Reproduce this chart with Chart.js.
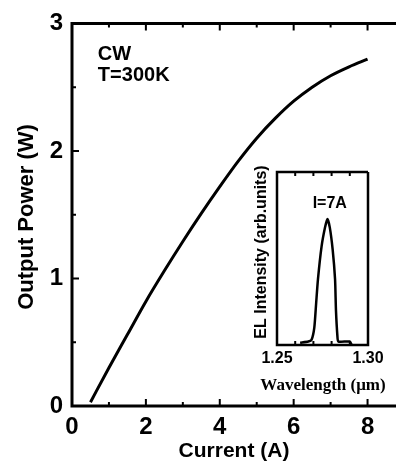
<!DOCTYPE html>
<html>
<head>
<meta charset="utf-8">
<script src="https://cdn.jsdelivr.net/npm/chart.js@4.4.1/dist/chart.umd.min.js"></script>
<style>
  html, body { margin: 0; padding: 0; background: #fff; }
  #wrap { position: relative; width: 396px; height: 472px; overflow: hidden; }
  #mainChart { position: absolute; left: 0; top: 0; }
  #insetChart { position: absolute; left: 240px; top: 160px; }
</style>
</head>
<body>
<div id="wrap">
  <canvas id="mainChart" width="396" height="472"></canvas>
  <canvas id="insetChart" width="156" height="240"></canvas>
</div>
<script>
// main L-I curve
const current = [0.5, 1.0, 1.5, 2.0, 2.5, 3.0, 3.5, 4.0, 4.5, 5.0, 5.5, 6.0, 6.5, 7.0, 7.5, 8.0];
const power   = [0.03, 0.30, 0.56, 0.82, 1.06, 1.29, 1.51, 1.72, 1.92, 2.10, 2.255, 2.39, 2.50, 2.59, 2.66, 2.72];

// inset EL spectrum at I=7A
const wavelength = [1.2627, 1.2672, 1.2690, 1.2705, 1.2715, 1.2725, 1.2745, 1.2764, 1.2777, 1.2790, 1.2806, 1.2819, 1.2824, 1.2832, 1.2837, 1.2900, 1.2910];
const intensity  = [0.013, 0.02, 0.03, 0.10, 0.24, 0.38, 0.57, 0.68, 0.728, 0.68, 0.55, 0.38, 0.20, 0.05, 0.02, 0.02, 0.0];

// tick values
const mainXMajor = [0, 2, 4, 6, 8];
const mainXMinor = [1, 3, 5, 7];
const mainYMajor = [0, 1, 2, 3];
const mainYMinor = [0.5, 1.5, 2.5];
const insetXMinor = [1.26, 1.27, 1.28, 1.29];

const SANS = "'Liberation Sans', Arial, sans-serif";
const SERIF = "'Liberation Serif', 'Times New Roman', serif";

Chart.defaults.color = '#000';

// frame + inward ticks, drawn from the chart's own scales
const frameTicks = {
  id: 'frameTicks',
  afterDatasetsDraw(chart, args, o) {
    const ctx = chart.ctx;
    const a = chart.chartArea;
    const x = chart.scales.x, y = chart.scales.y;
    ctx.save();
    ctx.strokeStyle = '#000';
    ctx.lineWidth = o.lineWidth;
    ctx.beginPath();
    ctx.moveTo(a.left, a.top); ctx.lineTo(a.left, a.bottom);
    ctx.moveTo(a.left - o.lineWidth / 2, a.bottom); ctx.lineTo(a.right, a.bottom);
    ctx.moveTo(a.left - o.lineWidth / 2, a.top); ctx.lineTo(a.right, a.top);
    if (o.right) { ctx.moveTo(a.right, a.top); ctx.lineTo(a.right, a.bottom + o.lineWidth / 2); }
    ctx.stroke();

    ctx.lineWidth = o.tickWidth;
    ctx.beginPath();
    const xt = (vals, len) => vals.forEach(v => {
      const px = x.getPixelForValue(v);
      ctx.moveTo(px, a.bottom); ctx.lineTo(px, a.bottom - len);
      ctx.moveTo(px, a.top); ctx.lineTo(px, a.top + len);
    });
    const yt = (vals, len) => vals.forEach(v => {
      const py = y.getPixelForValue(v);
      ctx.moveTo(a.left, py); ctx.lineTo(a.left + len, py);
    });
    xt(o.xMajor || [], o.majorLen);
    xt(o.xMinor || [], o.minorLen);
    yt(o.yMajor || [], o.majorLen);
    yt(o.yMinor || [], o.minorLen);
    ctx.stroke();
    ctx.restore();
  }
};

// free text: data-placed notes and pixel-placed axis titles
const notes = {
  id: 'notes',
  afterDraw(chart, args, o) {
    const ctx = chart.ctx;
    ctx.save();
    ctx.fillStyle = '#000';
    (o.items || []).forEach(it => {
      ctx.font = it.font;
      ctx.textAlign = it.align || 'left';
      ctx.textBaseline = 'alphabetic';
      ctx.fillText(it.text, chart.scales.x.getPixelForValue(it.x), chart.scales.y.getPixelForValue(it.y));
    });
    (o.titles || []).forEach(t => {
      ctx.save();
      ctx.font = t.font;
      ctx.textAlign = 'center';
      ctx.textBaseline = 'middle';
      ctx.translate(t.px, t.py);
      if (t.vertical) ctx.rotate(-Math.PI / 2);
      ctx.fillText(t.text, 0, 0);
      ctx.restore();
    });
    ctx.restore();
  }
};

const mainChart = new Chart(document.getElementById('mainChart'), {
  type: 'line',
  data: {
    datasets: [{
      data: current.map((c, i) => ({ x: c, y: power[i] })),
      borderColor: '#000',
      borderWidth: 3,
      pointRadius: 0,
      cubicInterpolationMode: 'monotone',
      fill: false
    }]
  },
  options: {
    responsive: false,
    devicePixelRatio: 1,
    animation: false,
    layout: { padding: { top: 16, right: 0, left: 0, bottom: 0 } },
    plugins: {
      legend: { display: false },
      tooltip: { enabled: false },
      frameTicks: {
        lineWidth: 3, tickWidth: 2, majorLen: 7, minorLen: 4, right: false,
        xMajor: mainXMajor, xMinor: mainXMinor, yMajor: mainYMajor, yMinor: mainYMinor
      },
      notes: {
        items: [
          { text: 'CW', x: 0.70, y: 2.71, font: 'bold 20px ' + SANS },
          { text: 'T=300K', x: 0.70, y: 2.55, font: 'bold 20px ' + SANS }
        ],
        titles: [
          { text: 'Output Power (W)', px: 27, py: 217, vertical: true, font: 'bold 22px ' + SANS }
        ]
      }
    },
    scales: {
      x: {
        type: 'linear',
        min: 0, max: 8.77,
        grid: { display: false, drawTicks: false },
        border: { display: false },
        ticks: {
          stepSize: 2, includeBounds: false, padding: 7, maxRotation: 0,
          font: { family: SANS, size: 24, weight: 'bold' }
        },
        title: {
          display: true, text: 'Current (A)',
          font: { family: SANS, size: 21, weight: 'bold' },
          padding: { top: 0, bottom: 8 }
        },
        afterFit(s) { s.height = 66; }
      },
      y: {
        type: 'linear',
        min: 0, max: 3,
        grid: { display: false, drawTicks: false },
        border: { display: false },
        ticks: {
          stepSize: 1, padding: 9,
          font: { family: SANS, size: 24, weight: 'bold' }
        },
        afterFit(s) { s.width = 72; }
      }
    }
  },
  plugins: [frameTicks, notes]
});

const insetChart = new Chart(document.getElementById('insetChart'), {
  type: 'line',
  data: {
    datasets: [{
      data: wavelength.map((w, i) => ({ x: w, y: intensity[i] })),
      borderColor: '#000',
      borderWidth: 2.5,
      pointRadius: 0,
      tension: 0.2,
      fill: false
    }]
  },
  options: {
    responsive: false,
    devicePixelRatio: 1,
    animation: false,
    layout: { padding: { top: 12, right: 28, left: 0, bottom: 0 } },
    plugins: {
      legend: { display: false },
      tooltip: { enabled: false },
      frameTicks: {
        lineWidth: 2.5, tickWidth: 2, majorLen: 4, minorLen: 4, right: true,
        xMinor: insetXMinor
      },
      notes: {
        items: [
          { text: 'I=7A', x: 1.279, y: 0.79, font: 'bold 16px ' + SANS, align: 'center' }
        ],
        titles: [
          { text: 'Wavelength (\u03BCm)', px: 83, py: 226, font: 'bold 17px ' + SERIF },
          { text: 'EL Intensity (arb.units)', px: 22, py: 92, vertical: true, font: 'bold 16px ' + SANS }
        ]
      }
    },
    scales: {
      x: {
        type: 'linear',
        min: 1.25, max: 1.30,
        grid: { display: false, drawTicks: false },
        border: { display: false },
        ticks: {
          stepSize: 0.05, padding: 4, maxRotation: 0,
          font: { family: SANS, size: 16, weight: 'bold' },
          callback: v => v.toFixed(2)
        },
        afterFit(s) { s.height = 55; }
      },
      y: {
        type: 'linear',
        min: 0, max: 1,
        grid: { display: false, drawTicks: false },
        border: { display: false },
        ticks: { display: false },
        afterFit(s) { s.width = 37; }
      }
    }
  },
  plugins: [frameTicks, notes]
});
</script>
</body>
</html>
